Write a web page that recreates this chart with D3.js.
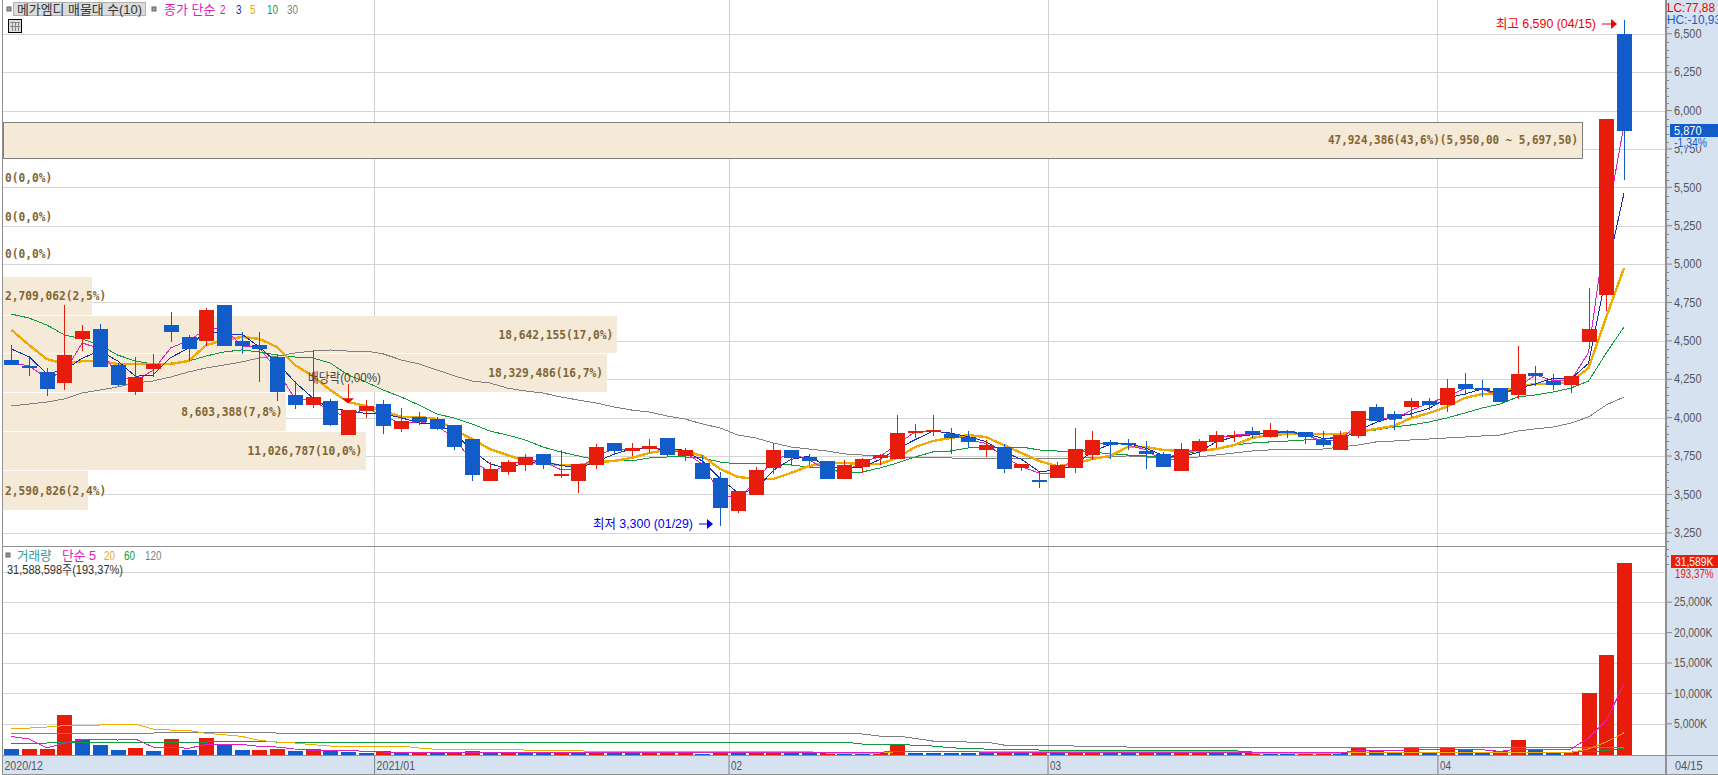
<!DOCTYPE html>
<html>
<head>
<meta charset="utf-8">
<script src="https://cdn.jsdelivr.net/npm/d3@7"></script>
<style>
html,body{margin:0;padding:0;background:#fff;overflow:hidden;}
svg{display:block;}
text{font-family:"Liberation Sans","Noto Sans CJK KR",sans-serif;font-size:13px;}
.prof{font-family:"DejaVu Sans Mono","Noto Sans CJK KR",monospace;font-size:12px;font-weight:bold;fill:#806633;}
.axis text{fill:#555;}
.axis line{stroke:#888;}
.axis path{display:none;}
</style>
</head>
<body>
<svg id="chart" width="1718" height="775"></svg>
<script>
// daily candles 2020/12 .. 04/15
var opens = [4380,4340,4300,4230,4515,4580,4345,4170,4320,4605,
4530,4500,4735,4500,4475,4400,4150,4085,4110,3890,
4045,4090,3930,4010,3995,3955,3865,3590,3650,3695,
3765,3625,3590,3695,3840,3785,3800,3870,3755,3710,
3610,3395,3500,3675,3795,3745,3720,3605,3680,3740,
3735,3905,3910,3895,3875,3795,3810,3675,3595,3610,
3675,3760,3845,3840,3785,3765,3655,3785,3845,3880,
3915,3875,3915,3910,3860,3795,3885,4075,4025,4075,
4110,4085,4220,4195,4195,4150,4295,4240,4215,4495,
4800,6500];
var highs = [4475,4390,4325,4735,4605,4615,4360,4400,4420,4690,
4540,4715,4735,4560,4560,4420,4240,4445,4125,4055,
4120,4120,4065,4040,4010,3955,3865,3715,3730,3765,
3765,3795,3700,3830,3840,3840,3865,3870,3805,3760,
3650,3525,3680,3840,3795,3765,3720,3730,3740,3765,
4020,3960,4020,3935,3915,3860,3830,3700,3650,3715,
3935,3915,3860,3865,3850,3780,3840,3865,3915,3915,
3940,3970,3925,3910,3915,3915,4045,4090,4045,4130,
4130,4255,4295,4250,4195,4470,4340,4290,4275,4850,
5950,6590];
var lows = [4345,4275,4145,4185,4435,4335,4210,4150,4270,4495,
4370,4470,4470,4420,4235,4110,4060,4065,3950,3890,
4000,3895,3910,3955,3925,3795,3590,3590,3630,3655,
3670,3610,3515,3670,3760,3755,3775,3745,3720,3605,
3300,3380,3500,3635,3695,3695,3605,3605,3640,3695,
3735,3870,3885,3765,3805,3745,3645,3655,3545,3610,
3645,3730,3735,3795,3670,3680,3655,3755,3805,3845,
3870,3870,3870,3830,3810,3795,3870,3980,3925,4005,
4055,4040,4150,4135,4105,4125,4210,4185,4165,4450,
4700,5550];
var closes = [4345,4335,4190,4410,4570,4335,4215,4270,4355,4560,
4450,4705,4470,4470,4450,4170,4085,4140,3955,4055,
4080,3950,3980,3975,3930,3810,3630,3670,3715,3745,
3695,3635,3700,3810,3785,3805,3820,3760,3795,3605,
3415,3525,3660,3795,3740,3720,3605,3695,3735,3760,
3905,3915,3925,3870,3845,3825,3670,3700,3585,3695,
3800,3860,3825,3825,3765,3680,3800,3850,3890,3890,
3895,3920,3905,3875,3825,3890,4045,3980,3995,4110,
4085,4195,4190,4185,4105,4290,4275,4215,4275,4580,
5950,5870];

// price moving averages
var ma2 = [4360,4340,4262,4300,4490,4452,4275,4242,4312,4458,
4505,4578,4588,4470,4460,4310,4128,4112,4048,4005,
4068,4015,3965,3978,3952,3870,3720,3650,3692,3730,
3720,3665,3668,3755,3798,3795,3812,3790,3778,3700,
3510,3470,3592,3728,3768,3730,3662,3650,3715,3748,
3832,3910,3920,3898,3858,3835,3748,3685,3642,3640,
3748,3830,3842,3825,3795,3722,3740,3825,3870,3890,
3892,3908,3912,3890,3850,3858,3968,4012,3988,4052,
4098,4140,4192,4188,4145,4198,4282,4245,4245,4428,
5265,5910];
var ma3 = [4450,4400,4290,4312,4390,4438,4373,4273,4280,4395,
4455,4572,4542,4548,4463,4363,4235,4132,4060,4050,
4030,4028,4003,3968,3962,3905,3790,3703,3672,3710,
3718,3692,3677,3715,3765,3800,3803,3795,3792,3720,
3605,3515,3533,3660,3732,3752,3688,3673,3678,3730,
3800,3860,3915,3903,3880,3847,3780,3732,3652,3660,
3693,3785,3828,3837,3805,3757,3748,3777,3847,3877,
3892,3902,3907,3900,3868,3863,3920,3972,4007,4028,
4063,4130,4157,4190,4160,4193,4223,4260,4255,4357,
4935,5467];
var ma5 = [4575,4476,4385,4353,4372,4372,4353,4353,4353,4353,
4372,4476,4509,4529,4516,4463,4346,4275,4183,4105,
4079,4047,4008,4008,3995,3923,3864,3799,3760,3721,
3702,3695,3695,3714,3721,3741,3773,3793,3786,3754,
3669,3617,3604,3604,3643,3688,3708,3708,3702,3702,
3741,3812,3851,3871,3890,3877,3825,3773,3721,3688,
3702,3734,3754,3812,3812,3793,3786,3786,3799,3825,
3871,3890,3897,3897,3897,3897,3910,3930,3949,4001,
4033,4073,4131,4157,4164,4209,4222,4222,4236,4327,
4659,4978];
var ma10 = [4678,4652,4607,4542,4516,4476,4411,4372,4353,4359,
4372,4405,4431,4444,4431,4411,4398,4392,4359,4281,
4236,4183,4138,4086,4027,4001,3962,3916,3890,3858,
3812,3780,3754,3728,3721,3721,3741,3747,3747,3741,
3714,3702,3702,3702,3695,3682,3675,3649,3649,3675,
3708,3747,3780,3786,3806,3806,3812,3812,3793,3786,
3786,3780,3767,3760,3754,3747,3760,3786,3799,3825,
3838,3845,3851,3858,3858,3890,3910,3923,3942,3956,
3975,4001,4033,4066,4092,4138,4151,4170,4196,4242,
4424,4594];
var ma30 = [4079,4092,4105,4125,4164,4183,4203,4229,4242,4268,
4301,4327,4346,4366,4392,4405,4424,4437,4444,4437,
4437,4418,4379,4353,4314,4275,4242,4229,4196,4177,
4164,4138,4118,4099,4073,4053,4040,4014,3995,3962,
3936,3890,3871,3838,3812,3799,3786,3767,3760,3754,
3747,3741,3741,3741,3734,3734,3741,3734,3734,3734,
3741,3741,3747,3754,3747,3741,3741,3747,3760,3773,
3786,3793,3799,3799,3799,3812,3825,3845,3851,3858,
3864,3871,3877,3884,3890,3916,3930,3942,3968,4008,
4086,4138];

// volume in thousands, 1 = red bar
var volumes = [985,985,985,6580,2630,1645,820,1150,660,2630,
820,2795,1645,820,820,985,660,985,660,495,
330,660,300,300,300,330,660,300,300,300,
300,400,300,300,260,300,300,300,200,160,
300,200,300,660,300,300,200,200,200,200,
1645,330,300,300,300,330,330,300,300,300,
770,770,300,300,300,300,300,300,300,300,
300,300,300,200,200,200,1205,820,495,1205,
495,1205,820,495,660,2470,930,495,385,10200,
16400,31589];
var volUp = [0,1,1,1,0,0,0,1,0,1,
0,1,0,0,1,1,0,1,0,0,
0,1,0,1,0,1,1,0,1,0,
0,1,0,1,0,0,1,1,1,0,
1,0,1,1,0,0,1,0,0,1,
1,0,0,0,0,0,1,0,1,0,
1,1,0,0,1,0,1,1,0,0,
1,0,0,1,1,0,1,0,0,1,
0,1,0,0,1,1,0,0,1,1,
1,1];
var volMa5 = [3010,2575,1095,1920,2465,2575,2410,2575,1260,1260,
1040,1700,1755,1700,1370,1260,930,710,770,710,
550,440,440,440,440,440,440,440,440,440,
440,400,400,400,400,400,400,400,400,400,
400,400,400,400,400,400,400,400,400,400,
600,600,600,600,600,350,350,350,350,350,
350,350,350,350,350,350,350,350,350,350,
300,300,300,300,300,300,660,660,660,820,
820,820,820,820,550,930,930,930,930,2750,
5650,11600];
var volMa20 = [4385,4385,4550,4770,4880,4880,5040,5040,4220,4055,
4000,3510,3290,3015,2355,2080,1920,1645,1425,1425,
1425,1425,1425,1095,875,875,875,875,800,770,
770,700,660,495,495,495,495,495,495,495,
495,495,495,495,495,495,275,275,275,275,
495,495,495,495,495,495,495,495,495,495,
495,495,495,495,495,495,495,495,495,495,
275,275,275,275,275,275,385,385,385,385,
385,385,385,385,385,385,385,385,385,950,
2100,3600];
var volMa60 = [1920,1920,1920,2080,2080,2080,2080,2080,2080,2080,
2080,2080,2245,2245,2245,2080,2080,2080,2080,2080,
2080,2080,2080,2080,2080,2080,2080,2080,2080,2080,
2080,2080,2080,2080,2080,2080,2080,2080,2080,2080,
2080,2080,2080,2080,2080,2080,2080,2080,1755,1755,
1755,1535,1425,1150,985,930,930,930,770,770,
770,770,770,770,660,660,660,660,660,660,
440,440,440,440,440,440,440,440,440,440,
440,440,440,440,440,440,440,440,440,470,
700,1100];
var volMa120 = [3560,3560,3560,3560,3560,3560,3560,3560,3560,3725,
3725,3725,3725,3725,3725,3560,3560,3560,3560,3560,
3560,3560,3560,3560,3560,3560,3560,3560,3560,3560,
3560,3560,3560,3560,3560,3560,3560,3560,3560,3560,
3560,3560,3560,3560,3560,3560,3560,3560,3400,3070,
3070,2685,2245,2245,2080,2080,1590,1590,1590,1590,
1425,1425,1425,1260,1260,1260,1260,1260,1260,1260,
1260,1260,1260,1260,1260,1260,1260,1260,1260,1260,
1205,1205,1205,1205,1205,1205,1205,1205,1205,1205,
1205,1205];

// 매물대 rows, top row first
var profVolumes = [47924386,0,0,0,2709062,18642155,18329486,8603388,11026787,2590826];
var profLabels = ["47,924,386(43,6%)(5,950,00 ~ 5,697,50)","0(0,0%)","0(0,0%)","0(0,0%)","2,709,062(2,5%)",
"18,642,155(17,0%)","18,329,486(16,7%)","8,603,388(7,8%)","11,026,787(10,0%)","2,590,826(2,4%)"];
var profTop = [5927,5685,5430,5200,4919,4665,4415,4164,3910,3656];
var profBot = [5694,5450,5190,4940,4672,4424,4170,3916,3662,3402];

var monthStarts = [0,21,41,59,81];
var monthLabels = ["2020/12","2021/01","02","03","04"];
var priceTicks = d3.range(3250,6501,250);
var volTicks = [5000,10000,15000,20000,25000,30000];

var red = "#e81c0b", blue = "#125cc9", panelBg = "#d7e2f1", gridCol = "#d5d5d5";

var svg = d3.select("#chart");

var x = d3.scaleLinear().domain([0,91]).range([11.3,1624]);
var yPrice = d3.scaleLinear().domain([3250,6500]).range([533.3,34.3]);
var yVol = d3.scaleLinear().domain([0,30000]).range([754.7,572.3]);
var xProf = d3.scaleLinear().domain([0,47924386]).range([3,1582]);

var plotRight = 1665, panelSplit = 546, volBase = 755;
var idx = d3.range(opens.length);

// grid lines
var grid = svg.append("g").attr("shape-rendering","crispEdges");
grid.selectAll(".hp").data(priceTicks).enter().append("line")
    .attr("x1",3).attr("x2",plotRight)
    .attr("y1",function(d){return yPrice(d);})
    .attr("y2",function(d){return yPrice(d);})
    .attr("stroke",gridCol);
grid.selectAll(".hv").data(volTicks).enter().append("line")
    .attr("x1",3).attr("x2",plotRight)
    .attr("y1",function(d){return yVol(d);})
    .attr("y2",function(d){return yVol(d);})
    .attr("stroke",gridCol);
grid.selectAll(".vm").data(monthStarts.slice(1)).enter().append("line")
    .attr("x1",function(d){return x(d-0.5);})
    .attr("x2",function(d){return x(d-0.5);})
    .attr("y1",0).attr("y2",volBase)
    .attr("stroke","#d0d0d0");

// 매물대 boxes sit over the grid
var prof = svg.append("g");
prof.selectAll("rect").data(idx.slice(0,profVolumes.length).filter(function(i){return profVolumes[i]>0;})).enter().append("rect")
    .attr("x",xProf(0))
    .attr("y",function(i){return yPrice(profTop[i]);})
    .attr("width",function(i){return xProf(profVolumes[i])-xProf(0);})
    .attr("height",function(i){return yPrice(profBot[i])-yPrice(profTop[i]);})
    .attr("fill","#f5e9d8")
    .attr("shape-rendering","crispEdges")
    .attr("stroke",function(i){return i==0 ? "#808080" : "none";});

// moving average lines
var lineOf = function(yScale)
{
    return d3.line()
        .x(function(d,i){return x(i);})
        .y(function(d){return yScale(d);});
}
var drawLine = function(values,yScale,color,width)
{
    svg.append("path")
        .attr("d",lineOf(yScale)(values))
        .attr("fill","none")
        .attr("stroke",color)
        .attr("stroke-width",width)
        .attr("shape-rendering","crispEdges");
}
drawLine(ma30,yPrice,"#808080",1);
drawLine(ma10,yPrice,"#0f9a40",1);
drawLine(ma5,yPrice,"#f0aa00",2.4);
drawLine(ma2,yPrice,"#e020c0",1);
drawLine(ma3,yPrice,"#1030b0",1);

// candles
var candles = svg.append("g").attr("shape-rendering","crispEdges");
var candleCol = function(i){return closes[i]>=opens[i] ? red : blue;};
candles.selectAll(".wick").data(idx).enter().append("line")
    .attr("x1",function(i){return Math.round(x(i))+0.5;})
    .attr("x2",function(i){return Math.round(x(i))+0.5;})
    .attr("y1",function(i){return yPrice(highs[i]);})
    .attr("y2",function(i){return yPrice(lows[i]);})
    .attr("stroke",candleCol);
candles.selectAll(".body").data(idx).enter().append("rect")
    .attr("x",function(i){return Math.round(x(i))-7;})
    .attr("width",15)
    .attr("y",function(i){return yPrice(Math.max(opens[i],closes[i]));})
    .attr("height",function(i){return Math.max(2,Math.abs(yPrice(opens[i])-yPrice(closes[i])));})
    .attr("fill",candleCol);

// volume bars
var bars = svg.append("g").attr("shape-rendering","crispEdges");
bars.selectAll("rect").data(idx).enter().append("rect")
    .attr("x",function(i){return Math.round(x(i))-7;})
    .attr("width",15)
    .attr("y",function(i){return yVol(volumes[i]);})
    .attr("height",function(i){return volBase-yVol(volumes[i]);})
    .attr("fill",function(i){return volUp[i] ? red : blue;});
drawLine(volMa120,yVol,"#808080",1);
drawLine(volMa60,yVol,"#0f9a40",1);
drawLine(volMa20,yVol,"#f0aa00",1);
drawLine(volMa5,yVol,"#e020c0",1);

// 매물대 labels, wide boxes get them right aligned
prof = svg.append("g");
prof.selectAll("text").data(idx.slice(0,profVolumes.length)).enter().append("text")
    .attr("class","prof")
    .attr("x",function(i){return xProf(profVolumes[i])>200 ? xProf(profVolumes[i])-4 : 5;})
    .attr("y",function(i){return yPrice((profTop[i]+profBot[i])/2);})
    .attr("dy",".35em")
    .attr("text-anchor",function(i){return xProf(profVolumes[i])>200 ? "end" : "start";})
    .text(function(i){return profLabels[i];});

// 배당락 marker on candle 19
var divIdx = 19;
svg.append("line")
    .attr("x1",Math.round(x(divIdx))+0.5).attr("x2",Math.round(x(divIdx))+0.5)
    .attr("y1",yPrice(4222)).attr("y2",yPrice(4130))
    .attr("stroke","#e81c0b").attr("shape-rendering","crispEdges");
svg.append("path")
    .attr("d",d3.line()([[x(divIdx)-6,yPrice(4130)],[x(divIdx)+6,yPrice(4130)],[x(divIdx),yPrice(4095)]]))
    .attr("fill","#f00000");
svg.append("text").attr("x",308).attr("y",377).attr("dy",".35em").attr("fill","#444").text("배당락(0,00%)");

// right panel and date strip
svg.append("rect").attr("x",plotRight).attr("y",0).attr("width",1718-plotRight).attr("height",775).attr("fill",panelBg);
svg.append("rect").attr("x",3).attr("y",756).attr("width",plotRight-3).attr("height",18).attr("fill",panelBg);
var frame = svg.append("g").attr("stroke","#909090").attr("shape-rendering","crispEdges");
frame.append("line").attr("x1",2.5).attr("x2",2.5).attr("y1",0).attr("y2",775);
frame.append("line").attr("x1",plotRight+0.5).attr("x2",plotRight+0.5).attr("y1",0).attr("y2",775);
frame.append("line").attr("x1",plotRight+1.5).attr("x2",plotRight+1.5).attr("y1",0).attr("y2",775);
frame.append("line").attr("x1",3).attr("x2",plotRight).attr("y1",546.5).attr("y2",546.5);
frame.append("line").attr("x1",3).attr("x2",1718).attr("y1",755.5).attr("y2",755.5);
frame.append("line").attr("x1",3).attr("x2",1718).attr("y1",774.5).attr("y2",774.5);

// axes
svg.append("g").attr("class","axis").attr("transform","translate("+(plotRight+1)+",0)")
    .attr("shape-rendering","crispEdges")
    .call(d3.axisRight(yPrice)
        .tickValues(d3.range(3050,6701,50).filter(function(d){return d%250!=0;}))
        .tickSize(3).tickFormat(""));
svg.append("g").attr("class","axis").attr("transform","translate("+(plotRight+1)+",-1)")
    .call(d3.axisRight(yPrice).tickValues(priceTicks).tickSize(6).tickPadding(2).tickFormat(d3.format(",")));
svg.append("g").attr("class","axis").attr("transform","translate("+(plotRight+1)+",-1)")
    .call(d3.axisRight(yVol).tickValues(volTicks.slice(0,5)).tickSize(6).tickPadding(2)
        .tickFormat(function(d){return d3.format(",")(d)+"K";}));

// month labels
var months = svg.append("g");
months.selectAll("line").data(monthStarts.slice(1)).enter().append("line")
    .attr("x1",function(d){return x(d-0.5);}).attr("x2",function(d){return x(d-0.5);})
    .attr("y1",756).attr("y2",774).attr("stroke","#808080");
months.selectAll("text").data(monthStarts).enter().append("text")
    .attr("x",function(d){return x(d-0.5)+2;})
    .attr("y",765).attr("dy",".35em").attr("fill","#555")
    .text(function(d,i){return monthLabels[i];});
svg.append("text").attr("x",1675).attr("y",765).attr("dy",".35em").attr("fill","#555").text("04/15");

// right side readouts
svg.append("text").attr("class","wide").attr("x",1667).attr("y",7).attr("dy",".35em").attr("fill","#f00000").text("LC:77,88");
svg.append("text").attr("class","wide").attr("x",1667).attr("y",19).attr("dy",".35em").attr("fill",blue).text("HC:-10,93");
svg.append("rect").attr("x",1670).attr("y",124).attr("width",48).attr("height",13).attr("fill",blue);
svg.append("text").attr("x",1674).attr("y",130.5).attr("dy",".35em").attr("fill","#fff").text("5,870");
svg.append("rect").attr("x",1672).attr("y",137).attr("width",46).attr("height",10).attr("fill",panelBg);
svg.append("text").attr("x",1674).attr("y",142.5).attr("dy",".35em").attr("fill",blue).text("-1,34%");
svg.append("rect").attr("x",1671).attr("y",555).attr("width",47).attr("height",13).attr("fill",red);
svg.append("text").attr("x",1675).attr("y",561.5).attr("dy",".35em").attr("fill","#fff").text("31,589K");
svg.append("text").attr("x",1675).attr("y",573.5).attr("dy",".35em").attr("fill",red).text("193,37%");

// high and low callouts
var arrow = function(x0,x1,y,color)
{
    svg.append("line").attr("x1",x0).attr("x2",x1-5).attr("y1",y).attr("y2",y).attr("stroke",color);
    svg.append("path").attr("d",d3.line()([[x1-6,y-5],[x1,y],[x1-6,y+5]])).attr("fill",color);
}
svg.append("text").attr("x",1596).attr("y",23.5).attr("dy",".35em").attr("text-anchor","end").attr("fill","#f00000").text("최고 6,590 (04/15)");
arrow(1602,1617,24,"#f00000");
svg.append("text").attr("x",593).attr("y",523).attr("dy",".35em").attr("fill","#0000f0").text("최저 3,300 (01/29)");
arrow(699,713,524,"#0000f0");

// legends
var legend = function(items,y)
{
    svg.selectAll(null).data(items).enter().append("text")
        .attr("x",function(d){return d[0];})
        .attr("y",y).attr("dy",".35em")
        .attr("fill",function(d){return d[2];})
        .text(function(d){return d[1];});
}
svg.append("rect").attr("x",13.5).attr("y",2.5).attr("width",132).attr("height",13).attr("fill","#dcdcdc").attr("stroke","#b0b0b0");
legend([[17,"메가엠디 매물대 수(10)","#333"],[164,"종가 단순","#e020c0"],[220,"2","#e020c0"],[236,"3","#1030b0"],[250,"5","#f0aa00"],[267,"10","#0f9a40"],[287,"30","#808080"]],9);
legend([[17,"거래량","#339999"],[62,"단순 5","#e020c0"],[104,"20","#f0aa00"],[124,"60","#0f9a40"],[145,"120","#808080"]],555);
legend([[7,"31,588,598주(193,37%)","#333"]],569);
svg.selectAll(null).data([[7,7],[152,7],[6,553]]).enter().append("rect")
    .attr("x",function(d){return d[0];}).attr("y",function(d){return d[1];})
    .attr("width",4).attr("height",4).attr("fill","#999").attr("stroke","#666");

// table button
var btn = svg.append("g").attr("shape-rendering","crispEdges");
btn.append("rect").attr("x",8.5).attr("y",19.5).attr("width",13).attr("height",13).attr("fill","#ddd").attr("stroke","#000");
btn.selectAll("line").data([12,15,18]).enter().append("line")
    .attr("x1",function(d){return d+0.5;}).attr("x2",function(d){return d+0.5;}).attr("y1",22).attr("y2",31).attr("stroke","#888");
btn.append("line").attr("x1",10).attr("x2",20).attr("y1",22.5).attr("y2",22.5).attr("stroke","#888");
btn.append("line").attr("x1",10).attr("x2",20).attr("y1",26.5).attr("y2",26.5).attr("stroke","#888");

// squeeze the text to the fixed cell widths of the original screen font
var cellWidth = function(str,half,wide,space)
{
    return d3.sum(str.split(""),function(c){
        if(c==" ") return space;
        return c.charCodeAt(0)>=0x1100 ? wide : half;
    });
}
svg.selectAll("text").each(function()
{
    var t = d3.select(this);
    var s = t.text();
    if(s=="") return;
    var w;
    if(t.classed("prof")) w = cellWidth(s,6.75,6.75,3.5);
    else if(t.classed("wide")) w = cellWidth(s,6,11.5,5.5);
    else w = cellWidth(s,5.5,11.5,5.5);
    t.attr("textLength",w).attr("lengthAdjust","spacingAndGlyphs");
});
</script>
</body>
</html>
